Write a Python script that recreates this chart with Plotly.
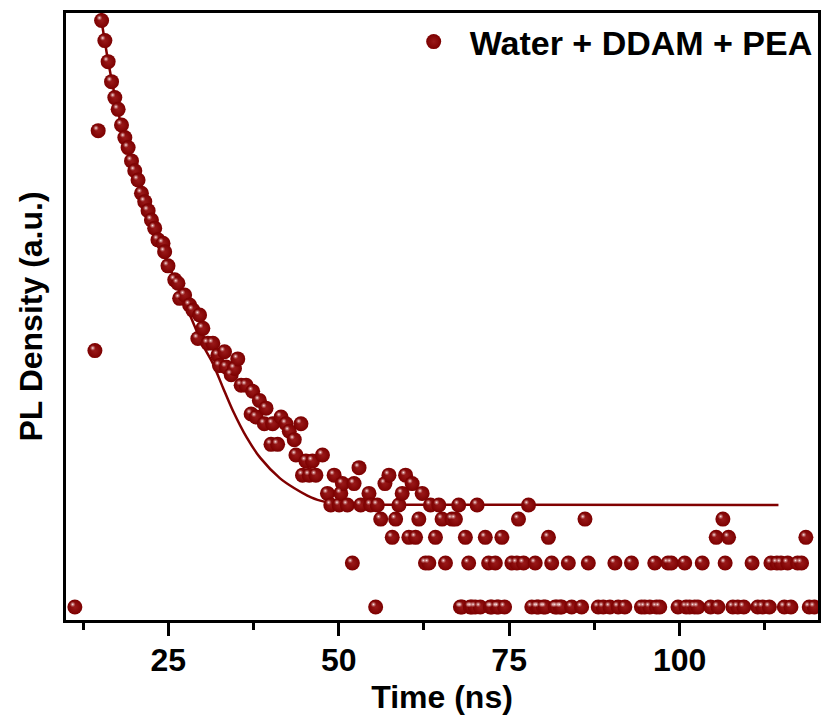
import plotly.graph_objects as go

# ---- data ----
time_ns = [11.3, 14.24, 14.72, 15.22, 15.70, 16.18, 16.68, 17.16, 17.65, 18.14, 18.63, 19.11, 19.61,
           20.09, 20.57, 21.07, 21.55, 22.04, 22.53, 23.01, 23.49, 24.23, 24.47, 24.96, 25.95, 26.42,
           26.67, 27.40, 28.13, 28.61, 29.34, 29.59, 30.07, 30.80, 31.54, 32.27, 32.51, 33.25, 33.49,
           34.23, 34.71, 35.19, 35.69, 36.42, 37.15, 37.38, 37.88, 38.36, 39.09, 39.34, 40.07, 40.31,
           41.04, 41.54, 42.27, 42.75, 43.48, 43.73, 44.46, 44.69, 45.19, 45.67, 46.15, 46.65, 47.62,
           48.35, 48.84, 49.33, 50.06, 50.31, 50.54, 51.27, 52.00, 52.25, 52.98, 53.23, 54.44, 54.69,
           55.42, 55.66, 56.16, 56.78, 57.37, 57.85, 58.35, 58.83, 59.31, 59.81, 60.29, 60.77, 61.27,
           61.75, 62.24, 62.73, 63.22, 63.46, 64.19, 64.68, 65.16, 65.66, 66.62, 67.12, 67.60, 67.85,
           68.09, 68.58, 69.06, 69.30, 69.55, 70.03, 70.30, 70.77, 71.50, 71.99, 72.24, 72.47, 72.97,
           73.20, 73.45, 73.93, 74.33, 75.40, 76.13, 76.37, 77.11, 77.84, 78.32, 78.82, 79.05, 79.30,
           80.03, 80.30, 80.76, 81.24, 81.74, 82.00, 82.47, 82.70, 83.68, 84.17, 85.63, 86.12, 86.61,
           88.07, 88.80, 89.78, 90.51, 90.99, 91.97, 92.94, 94.40, 94.90, 95.63, 96.36, 96.60, 97.09,
           98.30, 98.79, 99.77, 100.75, 100.95, 101.48, 102.21, 102.69, 103.32, 104.55, 105.37, 105.62,
           106.35, 106.68, 107.18, 107.81, 108.54, 109.42, 110.63, 111.46, 112.19, 113.17, 113.40,
           114.28, 114.87, 115.36, 115.85, 116.33, 117.31, 117.89, 118.52, 119.02, 119.75]
counts = [1, 57, 1830, 10400, 7570, 5430, 3960, 3080, 2560, 2000, 1640, 1400, 1135,
          973, 841, 682, 597, 518, 447, 393, 327, 310, 271, 217, 174, 165,
          130, 137, 117, 108, 69, 100, 81, 64, 64, 53, 45, 56, 44,
          39, 43, 50, 33, 33, 21, 30, 20, 26, 18, 23, 13, 18,
          13, 20, 18, 16, 14, 11, 18, 8, 10, 8, 10, 8, 11,
          6, 5, 8, 5, 6, 7, 5, 2, 7, 9, 5, 6, 5,
          1, 5, 4, 7, 8, 3, 4, 5, 6, 8, 3, 7, 3,
          4, 6, 2, 2, 5, 3, 5, 4, 2, 4, 4, 5, 1,
          1, 3, 2, 1, 1, 1, 5, 1, 3, 2, 1, 1, 2,
          1, 1, 3, 1, 2, 2, 4, 2, 5, 1, 2, 1, 1,
          1, 1, 3, 2, 1, 1, 1, 1, 2, 1, 1, 4, 2,
          1, 1, 1, 2, 1, 1, 2, 1, 1, 1, 2, 1, 1,
          2, 2, 1, 2, 1, 1, 1, 1, 2, 1, 3, 1,
          4, 2, 3, 1, 1, 1, 2, 1, 1, 1, 2,
          2, 2, 1, 2, 1, 2, 2, 3, 1, 1]

fit_time = [15.2, 16.2, 17.2, 18.1, 19.1, 20.1, 21.1, 22.0, 23.0, 24.0, 25.0, 26.6, 28.3, 30.0,
            31.5, 33.0, 34.5, 36.5, 38.5, 41.4, 43.5, 45.4, 47.3, 50.0, 55.0, 114.5]
fit_value = [10400, 5400, 3100, 2000, 1380, 970, 690, 510, 390, 300, 225, 146, 97, 63,
             47, 32, 22, 14.5, 10.5, 7.6, 6.5, 5.8, 5.35, 5.1, 5.02, 5.0]

x_ticks = [25, 50, 75, 100]
x_range = [10.0, 120.3]
y_range_log = [-0.089, 4.068]
series_name = "Water + DDAM + PEA"

DARK = "#7c0000"
FONT = "Liberation Sans, Arial, sans-serif"

fig = go.Figure()

fig.add_trace(go.Scatter(
    x=fit_time, y=fit_value, mode="lines",
    line=dict(color="#800000", width=2.5, shape="spline", smoothing=0.7),
    showlegend=False, hoverinfo="skip"))

fig.add_trace(go.Scatter(
    x=time_ns, y=counts, mode="markers", name=series_name,
    marker=dict(size=15, color=DARK, line=dict(width=0),
                gradient=dict(type="radial", color="#9a1a1a"))))

# small specular highlight, drawn on a slightly offset overlay axis pair
px_per_ns = 755 / (x_range[1] - x_range[0])
px_per_dec = 607 / (y_range_log[1] - y_range_log[0])
dx = 2.2 / px_per_ns
dy = 2.6 / px_per_dec
fig.add_trace(go.Scatter(
    x=time_ns, y=counts, mode="markers", xaxis="x2", yaxis="y2", showlegend=False, hoverinfo="skip",
    marker=dict(size=6, color="rgba(200,120,120,0)", line=dict(width=0),
                gradient=dict(type="radial", color="rgba(255,235,235,1)"))))

fig.update_layout(
    width=823, height=718,
    margin=dict(l=66, r=2, t=13, b=98),
    paper_bgcolor="white", plot_bgcolor="white",
    font=dict(family=FONT, color="black", size=32, weight="bold"),
    showlegend=True,
    legend=dict(x=(399 - 66) / 755, xanchor="left", y=1.0, yanchor="top", bgcolor="rgba(0,0,0,0)",
                font=dict(size=34, weight="bold", family=FONT), itemwidth=62,
                borderwidth=0),
    xaxis=dict(range=x_range, tickvals=x_ticks, ticks="outside", ticklen=13, tickwidth=3,
               tickcolor="black", showline=True, linewidth=3, linecolor="black", mirror=True,
               showgrid=False, zeroline=False, ticklabelstandoff=-3,
               minor=dict(dtick=12.5, tick0=0, ticks="outside", ticklen=7, tickwidth=2.5, tickcolor="black"),
               tickfont=dict(size=32, weight="bold", family=FONT),
               title=dict(text="Time (ns)", font=dict(size=32, weight="bold", family=FONT), standoff=9)),
    yaxis=dict(type="log", range=y_range_log, showticklabels=False, ticks="",
               showline=True, linewidth=3, linecolor="black", mirror=True,
               showgrid=False, zeroline=False,
               title=dict(text="PL Density (a.u.)", font=dict(size=32, weight="bold", family=FONT), standoff=11)),
    xaxis2=dict(overlaying="x", range=[x_range[0] + dx, x_range[1] + dx], visible=False),
    yaxis2=dict(overlaying="y", type="log", range=[y_range_log[0] - dy, y_range_log[1] - dy], visible=False),
)

fig.write_html("out.html", config={"displayModeBar": False},
               post_script="document.body.style.margin='0';document.body.style.overflow='hidden';")
